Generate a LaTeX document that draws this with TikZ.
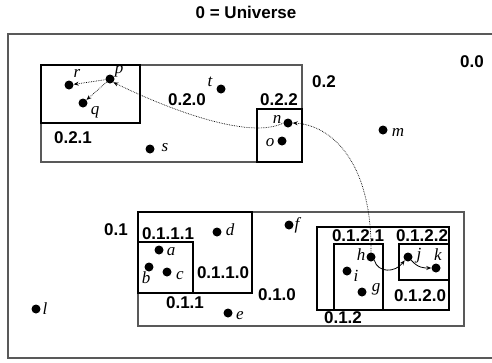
\documentclass[tikz,border=0pt]{standalone}
\usepackage{fontspec}
\setmainfont{Liberation Serif}
\setsansfont{Liberation Sans}
\usetikzlibrary{arrows.meta}
\begin{document}
\begin{tikzpicture}[x=1pt,y=-1pt,
  region/.style={draw=black, line width=1.1pt},
  outer/.style={draw=black!65, line width=1.1pt},
  lbl/.style={font=\sffamily\bfseries\fontsize{17}{17}\selectfont, inner sep=0},
  dot/.style={circle, fill=black, inner sep=0, minimum size=9pt},
  var/.style={font=\itshape\fontsize{17}{17}\selectfont, inner sep=0},
  link/.style={densely dotted, line width=0.7pt, -{Stealth[length=5pt,width=4pt]}},
  solidlink/.style={line width=0.8pt, -{Stealth[length=5pt,width=4pt]}}]
\useasboundingbox (0,0) rectangle (492,362);
% regions
\draw[outer] (492,34) -- (8,34) -- (8,358) -- (492,358);
\draw[outer] (41,65) rectangle (302,162);
\draw[region] (41,65) rectangle (140,123);
\draw[region] (257,109) rectangle (302,162);
\draw[outer] (138,212) rectangle (464,326);
\draw[region] (138,212) rectangle (252,293);
\draw[region] (138,242) rectangle (193,293);
\draw[region] (317,227) rectangle (449,310);
\draw[region] (334,244) rectangle (383,310);
\draw[region] (399,244) rectangle (449,280);
% region labels
\node[lbl] (title) at (246,12) {0 = Universe};
\node[lbl] (l00) at (472,62) {0.0};
\node[lbl] (l02) at (324,82) {0.2};
\node[lbl] (l020) at (187,100) {0.2.0};
\node[lbl] (l021) at (73,138) {0.2.1};
\node[lbl] (l022) at (279,100) {0.2.2};
\node[lbl] (l01) at (116,230) {0.1};
\node[lbl] (l0111) at (168,234) {0.1.1.1};
\node[lbl] (l0110) at (223,273) {0.1.1.0};
\node[lbl] (l011) at (185,303) {0.1.1};
\node[lbl] (l010) at (277,295) {0.1.0};
\node[lbl] (l0121) at (358,236) {0.1.2.1};
\node[lbl] (l0122) at (422,236) {0.1.2.2};
\node[lbl] (l0120) at (420,296) {0.1.2.0};
\node[lbl] (l012) at (343,318) {0.1.2};
% points
\node[dot] (r) at (69,85) {};  \node[var] (rl) at (77,73) {r};
\node[dot] (p) at (110,79) {}; \node[var] (pl) at (119,71) {p};
\node[dot] (q) at (83,103) {}; \node[var] (ql) at (95,112) {q};
\node[dot] (s) at (150,149) {}; \node[var] (sl) at (165,148) {s};
\node[dot] (t) at (221,89) {}; \node[var] (tl) at (210,82) {t};
\node[dot] (n) at (288,123) {}; \node[var] (nl) at (277,119) {n};
\node[dot] (o) at (282,141) {}; \node[var] (ol) at (270,143) {o};
\node[dot] (m) at (383,130) {}; \node[var] (ml) at (398,132) {m};
\node[dot] (a) at (159,250) {}; \node[var] (al) at (171,252) {a};
\node[dot] (b) at (149,267) {}; \node[var] (bl) at (146,278) {b};
\node[dot] (c) at (167,272) {}; \node[var] (cl) at (180,276) {c};
\node[dot] (d) at (217,232) {}; \node[var] (dl) at (230,230) {d};
\node[dot] (e) at (228,313) {}; \node[var] (el) at (240,316) {e};
\node[dot] (f) at (289,225) {}; \node[var] (fl) at (297,225) {f};
\node[dot] (h) at (371,257) {}; \node[var] (hl) at (361,255) {h};
\node[dot] (i) at (347,271) {}; \node[var] (il) at (356,276) {i};
\node[dot] (g) at (362,292) {}; \node[var] (gl) at (376,289) {g};
\node[dot] (j) at (408,257) {}; \node[var] (jl) at (419,256) {j};
\node[dot] (k) at (436,268) {}; \node[var] (kl) at (438,255) {k};
\node[dot] (l) at (36,309) {}; \node[var] (ll) at (45,309) {l};
% connectors
\draw[link] (p) -- (r);
\draw[link] (p) -- (q);
\draw[link] (n.west) .. controls (250,140) and (170,110) .. (p.south east);
\draw[link] (h.north) .. controls (372,160) and (330,125) .. (n.east);
\draw[solidlink] (h.south east) .. controls (378,273) and (395,273) .. (j.south west);
\draw[solidlink] (j.south east) .. controls (418,268) and (424,268) .. (k.west);
\end{tikzpicture}
\end{document}
